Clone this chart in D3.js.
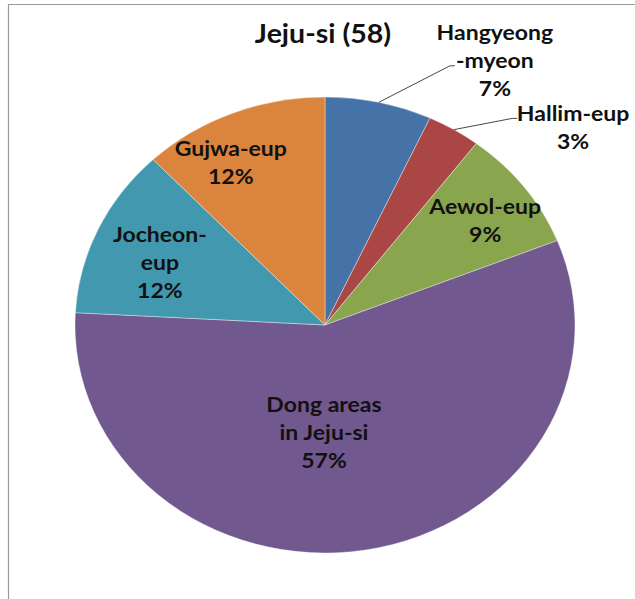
<!DOCTYPE html>
<html>
<head>
<meta charset="utf-8">
<script src="https://cdn.jsdelivr.net/npm/d3@7"></script>
<style>
  html, body { margin: 0; padding: 0; background: #fff; }
  svg { display: block; }
</style>
</head>
<body>
<svg id="chart" width="635" height="599"></svg>
<script>
// ---- data ----
const title = "Jeju-si (58)";
const categories = ["Hangyeong-myeon", "Hallim-eup", "Aewol-eup", "Dong areas in Jeju-si", "Jocheon-eup", "Gujwa-eup"];
const counts = [4, 2, 5, 33, 7, 7];
const labelLines = [["Hangyeong", "-myeon"], ["Hallim-eup"], ["Aewol-eup"], ["Dong areas", "in Jeju-si"], ["Jocheon-", "eup"], ["Gujwa-eup"]];
const colors = ["#4572A7", "#AA4643", "#89A54E", "#71588F", "#4198AF", "#DB843D"];

// ---- layout ----
const W = 635, H = 599;
const cx = 325, cy = 325, R = 228, xStretch = 1.0965;
// label placement: angle (deg, clockwise from top), radius fraction, optional leader end offset
const labelLayout = [
  { a: 30.3, r: 1.347, leader: [-45, 6] },
  { a: 48.8, r: 1.319, leader: [-61, -8.5] },
  { a: 54.3, r: 0.789 },
  { a: 180.5, r: 0.469 },
  { a: 292.7, r: 0.716 },
  { a: 332.2, r: 0.808 }
];
const lineH = 28;

const svg = d3.select("#chart");

// frame
svg.append("path")
  .attr("d", `M8.5,${H + 5} V4.5 H${W + 5}`)
  .attr("fill", "none")
  .attr("stroke", "#9a9a9a")
  .attr("stroke-width", 1.2);

const total = d3.sum(counts);
const pie = d3.pie().sort(null).value(d => d).startAngle(0).endAngle(2 * Math.PI);
const arcs = pie(counts);
const arc = d3.arc().innerRadius(0).outerRadius(R);

const g = svg.append("g").attr("transform", `translate(${cx},${cy}) scale(${xStretch},1)`);

g.selectAll("path.slice")
  .data(arcs)
  .join("path")
  .attr("class", "slice")
  .attr("d", arc)
  .attr("fill", (d, i) => colors[i])
  .attr("stroke", "#ffffff")
  .attr("stroke-opacity", 0.6)
  .attr("stroke-width", 0.6);

const polar = (deg, rad) => {
  const t = deg * Math.PI / 180;
  return [Math.sin(t) * rad, -Math.cos(t) * rad];
};

const fontFam = "Lato, 'Open Sans', sans-serif";

arcs.forEach((d, i) => {
  const lay = labelLayout[i];
  const [lx, ly] = polar(lay.a, lay.r * R);
  const pct = Math.round(counts[i] / total * 100) + "%";
  const lines = labelLines[i].concat([pct]);
  const n = lines.length;

  if (lay.leader) {
    const mid = (d.startAngle + d.endAngle) / 2 * 180 / Math.PI;
    const [sx, sy] = polar(mid, R);
    const ex = lx + lay.leader[0] / xStretch, ey = ly + lay.leader[1];
    g.append("path")
      .attr("d", `M${sx},${sy} L${ex},${ey} L${ex + 5 / xStretch},${ey}`)
      .attr("fill", "none")
      .attr("stroke", "#333")
      .attr("stroke-width", 0.9)
      .attr("vector-effect", "non-scaling-stroke");
  }

  const t = g.append("text")
    .attr("text-anchor", "middle")
    .attr("font-family", fontFam)
    .attr("font-weight", "bold")
    .attr("font-size", 21)
    .attr("fill", "#111");
  lines.forEach((ln, k) => {
    t.append("tspan")
      .attr("x", lx)
      .attr("y", ly + (k - (n - 1) / 2) * lineH)
      .attr("dominant-baseline", "central")
      .text(ln);
  });
});

// title
g.append("text")
  .attr("x", (323 - cx) / xStretch)
  .attr("y", 33 - cy)
  .attr("text-anchor", "middle")
  .attr("dominant-baseline", "central")
  .attr("font-family", fontFam)
  .attr("font-weight", "bold")
  .attr("font-size", 26)
  .attr("fill", "#111")
  .text(title);
</script>
</body>
</html>
